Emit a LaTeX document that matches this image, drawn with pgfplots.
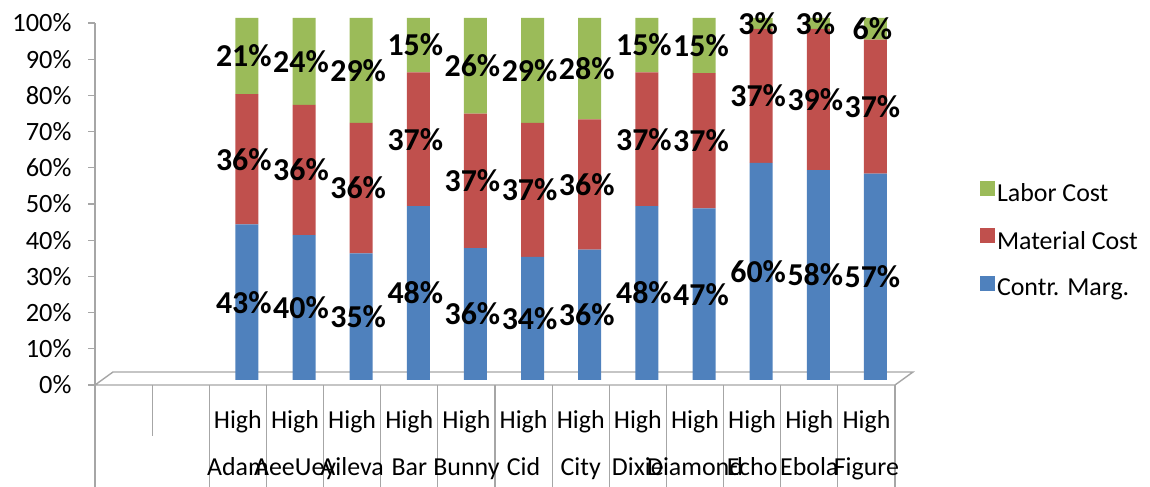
\documentclass[border=0pt]{standalone}
\usepackage{pgfplots}
\pgfplotsset{compat=1.18}
\usepackage{pgfplotstable}
\usepackage{fontspec}
\setmainfont{Carlito}
\definecolor{cmC}{HTML}{4F81BD}
\definecolor{matC}{HTML}{C0504D}
\definecolor{labC}{HTML}{9BBB59}
\definecolor{axC}{HTML}{A6A6A6}

\pgfplotstableread{
x    cm    mat   lab
2.5  43    36    21
3.5  40    36    24
4.5  35    36    29
5.5  48    37    15
6.5  36.4  37.2  26.4
7.5  34    37    29
8.5  36    36    28
9.5  48    37    15
10.5 47.4  37.4  15.2
11.5 60    37    3
12.5 58    39    3
13.5 57    37    6
}\datatable

\begin{document}
\begin{tikzpicture}[x=1bp,y=1bp]
% floor of the 3-D plot area
\draw[axC, line width=1.4bp] (95,102) -- (113,115) -- (913,115) -- (895,102) -- cycle;
% separators of the category labels
\foreach \k in {0,2,3,...,14}{
  \draw[axC, line width=1.2bp] ({95+\k*800/14},102) -- ({95+\k*800/14},0);
}
\draw[axC, line width=1.2bp] ({95+800/14},102) -- ({95+800/14},51);
\begin{axis}[
  at={(95bp,102bp)}, anchor=south west,
  scale only axis, width=800bp, height=362bp,
  xmin=0, xmax=14, ymin=0, ymax=100,
  clip=false,
  ybar stacked, bar width=23bp, bar shift=9bp,
  axis x line*=bottom, axis y line*=left,
  x axis line style={draw=none},
  y axis line style={axC, line width=1.2bp},
  xtick={2.5,3.5,...,13.5},
  xticklabels={High\\[17bp]Adam, High\\[17bp]AeeUey, High\\[17bp]Aileva, High\\[17bp]Bar, High\\[17bp]Bunny, High\\[17bp]Cid, High\\[17bp]City, High\\[17bp]Dixie, High\\[17bp]Diamond, High\\[17bp]Echo, High\\[17bp]Ebola, High\\[17bp]Figure},
  xtick style={draw=none},
  xticklabel style={align=center, font=\fontsize{26}{30}\selectfont, yshift=-15bp},
  ytick={0,10,...,100},
  yticklabel={\pgfmathprintnumber{\tick}\%},
  /pgf/number format/assume math mode=true,
  yticklabel style={font=\fontsize{26.5}{26.5}\selectfont, xshift=-13bp},
  ytick style={axC, line width=1.2bp},
  tick align=outside, major tick length=7bp,
  nodes near coords={\pgfmathprintnumber[fixed,precision=0]{\rawy}\%},
  every node near coord/.append style={font=\fontsize{32}{32}\selectfont\bfseries, black, anchor=center, xshift=-3bp},
  reverse legend,
  legend image code/.code={\fill[#1] (0bp,-7.5bp) rectangle (15bp,7.5bp);},
  legend style={draw=none, fill=none, at={(1.106,0.40)}, anchor=west, inner sep=0pt,
    font=\fontsize{26}{26}\selectfont, row sep=23bp},
  legend cell align=left,
]
\addplot[draw=none, fill=cmC, yshift=5bp,
  visualization depends on={\thisrow{cm} \as \rawy}] table[x=x, y=cm]{\datatable};
\addplot[draw=none, fill=matC, yshift=5bp,
  visualization depends on={\thisrow{mat} \as \rawy}] table[x=x, y=mat]{\datatable};
\addplot[draw=none, fill=labC, yshift=5bp,
  visualization depends on={\thisrow{lab} \as \rawy}] table[x=x, y=lab]{\datatable};
\legend{Contr. Marg., Material Cost, Labor Cost}
\end{axis}
\pgfresetboundingbox
\useasboundingbox (0,0) rectangle (1150,487);
\end{tikzpicture}
\end{document}
